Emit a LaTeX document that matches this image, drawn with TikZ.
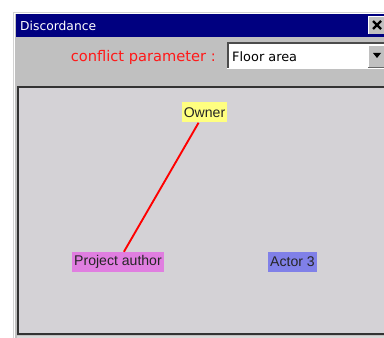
\documentclass[tikz,border=0pt]{standalone}
\usepackage{fontspec}
\setmainfont{Liberation Sans}
\newfontfamily\winfont{DejaVu Sans}
\definecolor{titleblue}{HTML}{000080}
\definecolor{wingray}{HTML}{C0C0C0}
\definecolor{panelgray}{HTML}{D4D2D6}
\definecolor{ownercol}{HTML}{FFFF80}
\definecolor{authorcol}{HTML}{E07EE0}
\definecolor{actorcol}{HTML}{8080E8}
\begin{document}
\begin{tikzpicture}[x=0.03cm,y=-0.03cm,
    actor/.style={inner xsep=1.5pt, inner ysep=0pt, minimum height=0.6cm,
      font=\fontsize{12}{14}\selectfont, text=black!85},
    conflict/.style={red, line width=1.6pt}]
  \useasboundingbox (0,0) rectangle (384,338);
  % window frame
  \fill[white] (0,0) rectangle (384,338);
  \fill[wingray!70] (13,12) rectangle (384,338);
  \fill[white] (14,13) rectangle (384,338);
  \fill[wingray] (15,14) rectangle (384,338);
  % title bar
  \fill[titleblue] (16,14) rectangle (384,37);
  \node[anchor=west, white, font=\winfont\fontsize{10.5}{12}\selectfont, inner sep=0pt]
    (title) at (20,25.5) {Discordance};
  \fill[wingray] (368,16) rectangle (384,34);
  \draw[white] (368,16.5) -- (384,16.5);
  \draw[white] (368.5,16) -- (368.5,34);
  \draw[line width=2pt] (373,21) -- (381,29) (373,29) -- (381,21);
  % parameter chooser
  \node[anchor=east, red!90!white, font=\winfont\fontsize{12.5}{14}\selectfont, inner sep=0pt]
    (param) at (216,57) {conflict parameter :};
  \fill[white] (227,42) rectangle (384,69);
  \draw[black!70, line width=1.5pt] (384,43) -- (228,43) -- (228,68);
  \draw[white, line width=1.2pt] (228,68.5) -- (384,68.5);
  \node[anchor=west, font=\winfont\fontsize{11}{13}\selectfont, inner sep=0pt]
    (floor) at (232,57) {Floor area};
  \fill[wingray] (368,45) rectangle (384,67);
  \draw[white] (368.5,67) -- (368.5,45.5) -- (384,45.5);
  \draw[black!60] (368,67) -- (384,67);
  \fill[black] (373,53) -- (381,53) -- (377,58) -- cycle;
  % drawing panel
  \fill[panelgray] (17,86) rectangle (384,335);
  \draw[black!80, line width=1.6pt] (384,86.8) -- (17.8,86.8) -- (17.8,334.2) -- (384,334.2);
  \fill[white!85!black] (17,336) rectangle (384,338);
  % actors
  \node[actor, fill=ownercol] (owner) at (204.5,112.5) {Owner};
  \node[actor, fill=authorcol] (author) at (118,262) {Project author};
  \node[actor, fill=actorcol] (actor3) at (292.5,262) {Actor 3};
  \draw[conflict] (owner) -- (author);
\end{tikzpicture}
\end{document}
